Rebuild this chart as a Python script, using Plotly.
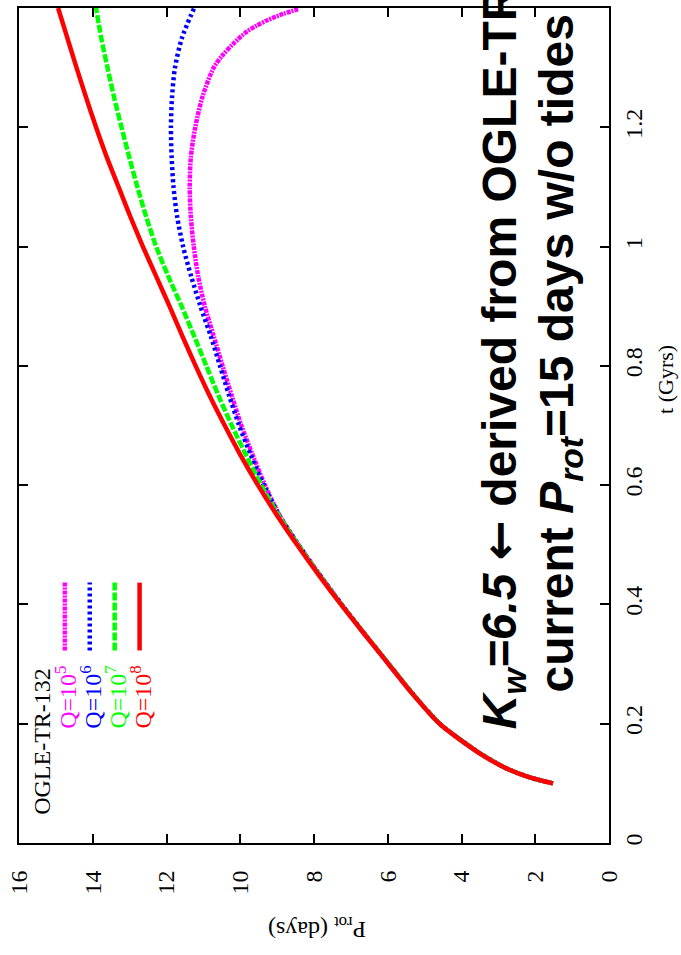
import plotly.graph_objects as go

# ---- data (t in Gyr, P_rot in days) ----
t_grid = [0.10, 0.11, 0.125, 0.15, 0.175, 0.20, 0.25, 0.30, 0.35, 0.40, 0.45, 0.50,
          0.55, 0.60, 0.65, 0.70, 0.75, 0.80, 0.85, 0.90, 0.95, 1.00, 1.05, 1.10,
          1.15, 1.20, 1.25, 1.30, 1.35, 1.40]

P_q8 = [1.52, 2.15, 2.78, 3.50, 4.08, 4.60, 5.33, 5.98, 6.63, 7.27, 7.88, 8.46,
        9.01, 9.52, 9.99, 10.42, 10.83, 11.21, 11.57, 11.92, 12.28, 12.64, 12.98, 13.30,
        13.62, 13.91, 14.18, 14.44, 14.69, 14.94]

P_q7 = [1.52, 2.15, 2.78, 3.49, 4.07, 4.59, 5.32, 5.97, 6.62, 7.26, 7.86, 8.43,
        8.97, 9.43, 9.84, 10.23, 10.59, 10.92, 11.25, 11.59, 11.95, 12.28, 12.55, 12.79,
        13.01, 13.22, 13.42, 13.60, 13.77, 13.91]

P_q6 = [1.52, 2.15, 2.78, 3.49, 4.07, 4.59, 5.32, 5.97, 6.62, 7.25, 7.85, 8.42,
        8.95, 9.36, 9.71, 10.03, 10.30, 10.55, 10.80, 11.08, 11.33, 11.55, 11.71, 11.81,
        11.86, 11.88, 11.85, 11.77, 11.58, 11.25]

t_q5 = [0.10, 0.11, 0.125, 0.15, 0.175, 0.20, 0.25, 0.30, 0.35, 0.40, 0.45, 0.50,
        0.55, 0.60, 0.65, 0.70, 0.75, 0.80, 0.85, 0.90, 0.95, 1.00, 1.05, 1.10,
        1.15, 1.20, 1.25, 1.30, 1.32, 1.34, 1.36, 1.37, 1.38, 1.39, 1.398]
P_q5 = [1.52, 2.15, 2.78, 3.49, 4.07, 4.59, 5.32, 5.97, 6.62, 7.25, 7.85, 8.42,
        8.94, 9.33, 9.66, 9.97, 10.23, 10.48, 10.72, 10.96, 11.14, 11.26, 11.34, 11.37,
        11.34, 11.22, 11.03, 10.72, 10.49, 10.19, 9.83, 9.57, 9.25, 8.84, 8.43]

series_names = ["Q=10<sup>5</sup>", "Q=10<sup>6</sup>", "Q=10<sup>7</sup>", "Q=10<sup>8</sup>"]
series_colors = ["#ff00ff", "#0000ff", "#00ff00", "#ff0000"]
series_dash = ["4px,1px,2px,1px", "3px,3px", "8px,2px", "solid"]

P_ticks = [0, 2, 4, 6, 8, 10, 12, 14, 16]
t_ticks = [0, 0.2, 0.4, 0.6, 0.8, 1.0, 1.2, 1.4]
t_ticklabels = ["0", "0.2", "0.4", "0.6", "0.8", "1", "1.2", "1.4"]

# ---- figure geometry ----
W, H = 681, 955
ML, MR, MT, MB = 17, 72, 6, 112
PW, PH = W - ML - MR, H - MT - MB


def px(xp):
    return (xp - ML) / PW


def py(yp):
    return (H - MB - yp) / PH


fig = go.Figure()
curves = [(t_q5, P_q5), (t_grid, P_q6), (t_grid, P_q7), (t_grid, P_q8)]
for (tt, pp), name, col, dash in zip(curves, series_names, series_colors, series_dash):
    fig.add_trace(go.Scatter(x=pp, y=tt, mode="lines", name=name,
                             line=dict(color=col, width=4.5, dash=dash,
                                       shape="spline", smoothing=0.8),
                             showlegend=False, hoverinfo="skip"))

serif = "Liberation Serif, Times New Roman, serif"
sans = "Liberation Sans, Arial, sans-serif"

fig.update_layout(
    width=W, height=H,
    margin=dict(l=ML, r=MR, t=MT, b=MB, pad=0),
    paper_bgcolor="white", plot_bgcolor="white",
    xaxis=dict(range=[16, 0], tickvals=P_ticks, ticktext=[str(v) for v in P_ticks],
               tickangle=-90, ticks="inside", ticklen=9, tickwidth=2, tickcolor="black",
               showline=True, linecolor="black", linewidth=2, mirror="allticks",
               showgrid=False, zeroline=False,
               tickfont=dict(family=serif, size=24, color="black"), ticklabelstandoff=16),
    yaxis=dict(range=[0, 1.4], side="right", tickvals=t_ticks, ticktext=t_ticklabels,
               tickangle=-90, ticks="inside", ticklen=9, tickwidth=2, tickcolor="black",
               showline=True, linecolor="black", linewidth=2, mirror="allticks",
               showgrid=False, zeroline=False,
               tickfont=dict(family=serif, size=24, color="black"), ticklabelstandoff=2),
)

ann = []
# axis titles
ann.append(dict(text="t (Gyrs)", x=px(665), y=py(378), xref="paper", yref="paper",
                textangle=-90, showarrow=False, xanchor="center", yanchor="middle",
                font=dict(family=serif, size=22, color="black")))
ann.append(dict(text="P<sub>rot</sub> (days)", x=px(316), y=py(928), xref="paper", yref="paper",
                textangle=180, showarrow=False, xanchor="center", yanchor="middle",
                font=dict(family=serif, size=24, color="black")))
# key
ann.append(dict(text="OGLE-TR-132", x=px(40), y=py(665), xref="paper", yref="paper",
                textangle=-90, showarrow=False, xanchor="center", yanchor="top",
                font=dict(family=serif, size=24, color="black")))
key_x = [63, 88, 113, 138]
for kx, name, col, dash in zip(key_x, series_names, series_colors, series_dash):
    ann.append(dict(text=name, x=px(kx + 1), y=py(663), xref="paper", yref="paper",
                    textangle=-90, showarrow=False, xanchor="center", yanchor="top",
                    font=dict(family=serif, size=24, color=col)))
    fig.add_shape(type="line", xref="paper", yref="paper",
                  x0=px(kx), x1=px(kx), y0=py(650), y1=py(582),
                  line=dict(color=col, width=4.5, dash=dash))
# big statement
arrow = '<span style="font-family:DejaVu Sans;font-weight:bold">\u2190</span>'
ann.append(dict(text="<b><i>K<sub>w</sub>=6.5</i> " + arrow + " derived from OGLE-TR-132</b>",
                x=px(501), y=py(731), xref="paper", yref="paper",
                textangle=-90, showarrow=False, xanchor="center", yanchor="bottom",
                font=dict(family=sans, size=48, color="black")))
ann.append(dict(text="<b>current <i>P<sub>rot</sub></i>=15 days w/o tides</b>",
                x=px(560), y=py(694), xref="paper", yref="paper",
                textangle=-90, showarrow=False, xanchor="center", yanchor="bottom",
                font=dict(family=sans, size=48, color="black")))
fig.update_layout(annotations=ann)

fig.write_html("out.html")
